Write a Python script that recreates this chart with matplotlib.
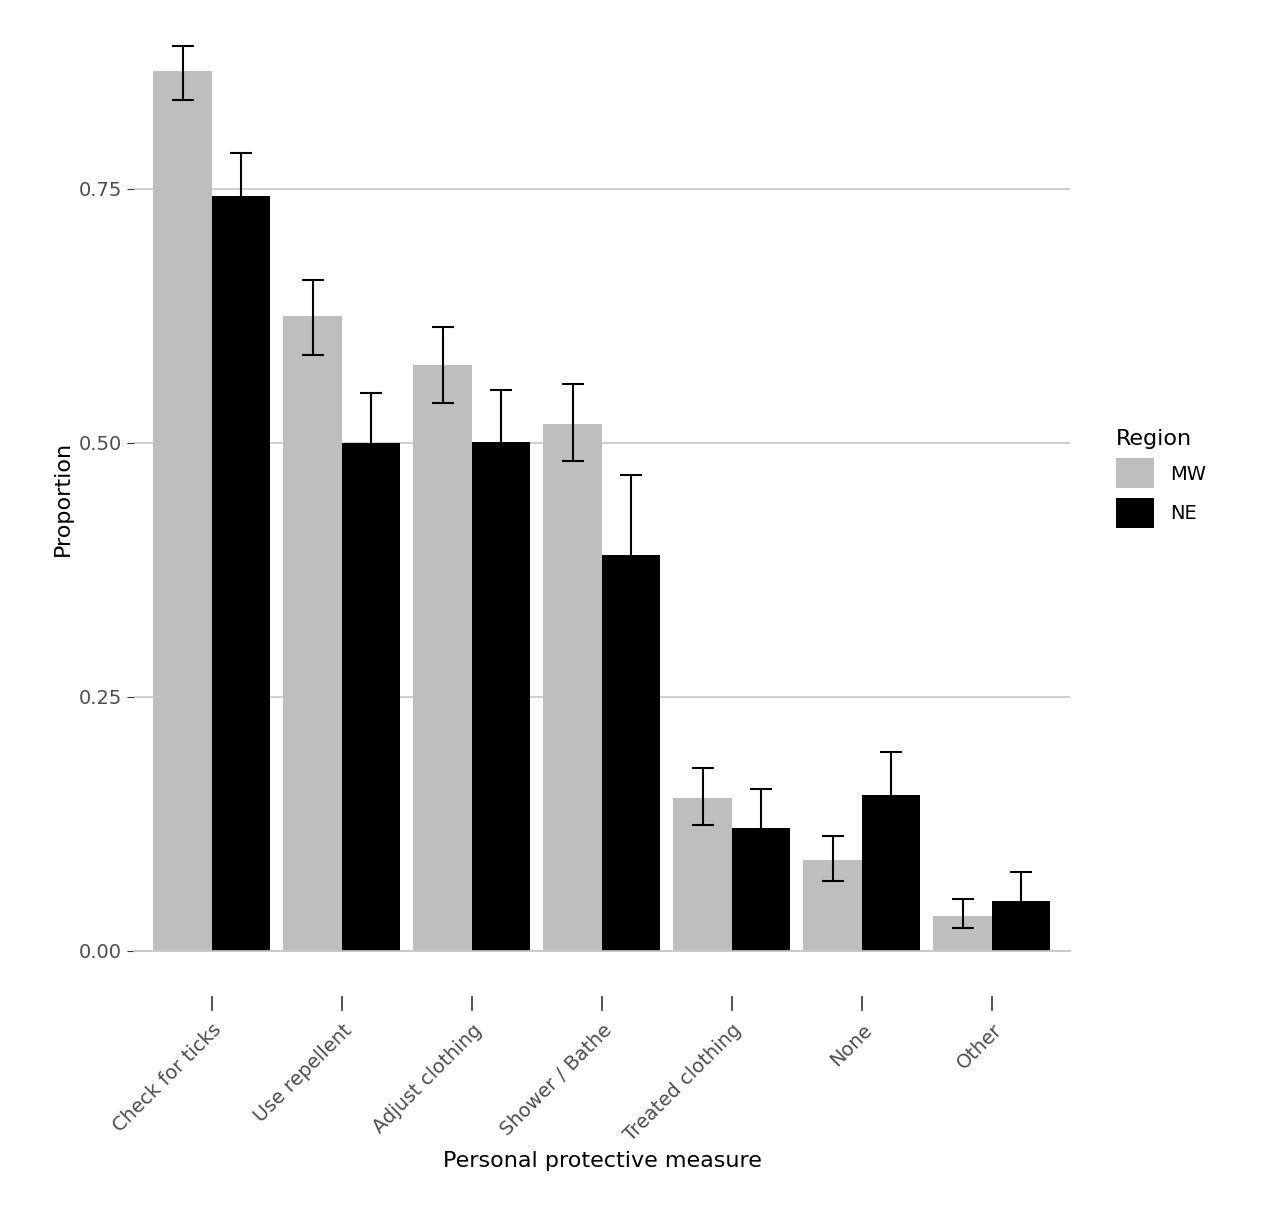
import matplotlib
matplotlib.use("Agg")
import matplotlib.pyplot as plt
import numpy as np

categories = ["Check for ticks", "Use repellent", "Adjust clothing", "Shower / Bathe",
              "Treated clothing", "None", "Other"]
mw = [0.866, 0.625, 0.577, 0.519, 0.150, 0.089, 0.034]
mw_hi = [0.891, 0.660, 0.614, 0.558, 0.180, 0.113, 0.051]
mw_lo = [0.838, 0.587, 0.539, 0.482, 0.124, 0.069, 0.023]
ne = [0.743, 0.500, 0.501, 0.390, 0.121, 0.153, 0.049]
ne_hi = [0.785, 0.549, 0.552, 0.468, 0.159, 0.196, 0.078]
ne_lo = [0.700, 0.451, 0.450, 0.312, 0.083, 0.110, 0.020]

fig = plt.figure(figsize=(12.7, 12.08), dpi=100)
ax = fig.add_axes([0.1055, 0.175, 0.737, 0.825])
x = np.arange(1, len(categories) + 1)
w = 0.45
ax.bar(x - w/2, mw, w, color="#bebebe", label="MW", zorder=2)
ax.bar(x + w/2, ne, w, color="black", label="NE", zorder=2)
for xs, v, lo, hi in [(x - w/2, mw, mw_lo, mw_hi), (x + w/2, ne, ne_lo, ne_hi)]:
    ax.errorbar(xs, v, yerr=[np.array(v) - np.array(lo), np.array(hi) - np.array(v)],
                fmt="none", ecolor="black", elinewidth=1.5, capsize=8, capthick=1.5, zorder=3)
ax.set_xlim(0.4, 7.6)
ax.set_ylim(-0.045, 0.936)
ax.set_yticks([0, 0.25, 0.5, 0.75])
ax.set_yticklabels(["0.00", "0.25", "0.50", "0.75"])
ax.set_xticks(x)
ax.set_xticklabels(categories)
ax.grid(axis="y", color="#c8c8c8", linewidth=1.2, zorder=0)
ax.set_facecolor("white")
for s in ["top", "right", "left"]:
    ax.spines[s].set_visible(False)
ax.spines["bottom"].set_position(("data", 0))
ax.spines["bottom"].set_color("#c8c8c8")
ax.spines["bottom"].set_linewidth(1.2)
ax.tick_params(axis="x", length=0, labelsize=14, pad=50)
ax.tick_params(axis="y", length=5, labelsize=14, colors="#4d4d4d", color="#333333")
plt.setp(ax.get_xticklabels(), rotation=45, ha="right", rotation_mode="anchor", color="#4d4d4d")
for xi in x:
    ax.plot([xi, xi], [-0.045, -0.058], color="#333333", lw=1.2, clip_on=False)
ax.set_ylabel("Proportion", fontsize=16)
ax.set_xlabel("Personal protective measure", fontsize=16)
ax.legend(title="Region", loc="center left", bbox_to_anchor=(1.03, 0.52),
          frameon=False, fontsize=14, title_fontsize=16, handlelength=2.0,
          handleheight=2.0, alignment="left")
fig.savefig("out.png", dpi=100)
